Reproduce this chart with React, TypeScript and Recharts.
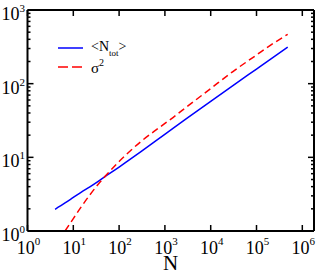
import { LineChart, Line, XAxis, YAxis, Customized } from 'recharts';

// <N_tot> curve
const totN = [4, 6.6, 10, 15, 23, 35, 50, 100, 150, 300, 700, 1500, 3000, 10000, 30000, 100000, 200000, 480000];
const totMean = [1.97, 2.4, 2.85, 3.37, 3.98, 4.73, 5.5, 7.38, 8.81, 11.97, 17.5, 24.7, 33.7, 57.5, 93.3, 158, 214, 313];

// sigma^2 curve
const sigN = [6.6, 10, 15, 23, 35, 50, 100, 150, 300, 700, 1500, 3000, 10000, 30000, 100000, 200000, 480000];
const sigVar = [1.0, 1.47, 2.14, 3.09, 4.32, 5.56, 8.8, 11.2, 16.4, 24.5, 34.7, 48.4, 86, 145, 245, 331, 468];

const xTicks = [1, 10, 100, 1000, 10000, 100000, 1000000];
const yTicks = [
  1, 2, 3, 4, 5, 6, 7, 8, 9,
  10, 20, 30, 40, 50, 60, 70, 80, 90,
  100, 200, 300, 400, 500, 600, 700, 800, 900,
  1000,
];

const totData = totN.map((n, i) => ({ N: n, v: totMean[i] }));
const sigData = sigN.map((n, i) => ({ N: n, v: sigVar[i] }));

const FONT = '"Liberation Serif", "Times New Roman", serif';

const isMajor = (v: number) => Math.abs(Math.log10(v) - Math.round(Math.log10(v))) < 1e-6;
const expOf = (v: number) => Math.round(Math.log10(v));

const LeftTick = ({ x, y, payload }: any) => {
  const major = isMajor(payload.value);
  return (
    <g>
      <line x1={x} x2={x + (major ? 6 : 3)} y1={y} y2={y} stroke="#000" strokeWidth={1.5} />
      {major && (
        <text x={x - 2.5} y={y + 10} textAnchor="end" fontFamily={FONT} fontSize={18} fill="#000">
          10<tspan dy={-8} fontSize={11}>{expOf(payload.value)}</tspan>
        </text>
      )}
    </g>
  );
};

const RightTick = ({ x, y, payload }: any) => {
  const major = isMajor(payload.value);
  return <line x1={x - (major ? 6 : 3)} x2={x} y1={y} y2={y} stroke="#000" strokeWidth={1.5} />;
};

const BottomTick = ({ x, y, payload }: any) => (
  <g>
    <line x1={x} x2={x} y1={y} y2={y - 6} stroke="#000" strokeWidth={1.5} />
    <text x={x + 1} y={y + 23} textAnchor="middle" fontFamily={FONT} fontSize={18} fill="#000">
      10<tspan dy={-9} fontSize={11}>{expOf(payload.value)}</tspan>
    </text>
  </g>
);

const TopTick = ({ x, y }: any) => (
  <line x1={x} x2={x} y1={y} y2={y + 6} stroke="#000" strokeWidth={1.5} />
);

const Decor = () => (
  <g fontFamily={FONT} fill="#000">
    <line x1={58} x2={83} y1={48} y2={48} stroke="#0000ff" strokeWidth={1.5} />
    <text x={91} y={51} fontSize={14}>
      &lt;N<tspan dy={4.5} fontSize={9}>tot</tspan>
      <tspan dy={-4.5}>&gt;</tspan>
    </text>
    <line x1={58} x2={83} y1={67} y2={67} stroke="#ff0000" strokeWidth={1.5} strokeDasharray="10 4" />
    <text x={91} y={72.5} fontSize={15}>
      σ<tspan dy={-7} fontSize={10}>2</tspan>
    </text>
    <text x={170.5} y={269.5} fontSize={21} textAnchor="middle">N</text>
  </g>
);

const axisLine = { stroke: '#000', strokeWidth: 2 };

export default function App() {
  return (
    <div style={{ position: 'absolute', left: 0, top: 0, background: '#fff' }}>
      <LineChart width={316} height={273} margin={{ top: 9, right: 1, bottom: 41, left: 26.5 }}>
        <XAxis
          xAxisId="b"
          dataKey="N"
          type="number"
          scale="log"
          domain={[1, 1.8e6]}
          allowDataOverflow
          ticks={xTicks}
          interval={0}
          height={1}
          tickSize={0}
          tickMargin={0}
          tickLine={false}
          axisLine={axisLine}
          tick={<BottomTick />}
        />
        <XAxis
          xAxisId="t"
          orientation="top"
          dataKey="N"
          type="number"
          scale="log"
          domain={[1, 1.8e6]}
          allowDataOverflow
          ticks={xTicks}
          interval={0}
          height={1}
          tickSize={0}
          tickMargin={0}
          tickLine={false}
          axisLine={axisLine}
          tick={<TopTick />}
        />
        <YAxis
          yAxisId="l"
          type="number"
          scale="log"
          domain={[1, 1000]}
          allowDataOverflow
          ticks={yTicks}
          interval={0}
          width={1}
          tickSize={0}
          tickMargin={0}
          tickLine={false}
          axisLine={axisLine}
          tick={<LeftTick />}
        />
        <YAxis
          yAxisId="r"
          orientation="right"
          type="number"
          scale="log"
          domain={[1, 1000]}
          allowDataOverflow
          ticks={yTicks}
          interval={0}
          width={1}
          tickSize={0}
          tickMargin={0}
          tickLine={false}
          axisLine={axisLine}
          tick={<RightTick />}
        />
        <Line
          xAxisId="b"
          yAxisId="l"
          data={totData}
          dataKey="v"
          type="monotone"
          stroke="#0000ff"
          strokeWidth={1.5}
          dot={false}
          isAnimationActive={false}
        />
        <Line
          xAxisId="b"
          yAxisId="l"
          data={sigData}
          dataKey="v"
          type="monotone"
          stroke="#ff0000"
          strokeWidth={1.5}
          strokeDasharray="7 4"
          dot={false}
          isAnimationActive={false}
        />
        <Customized component={Decor} />
      </LineChart>
    </div>
  );
}
